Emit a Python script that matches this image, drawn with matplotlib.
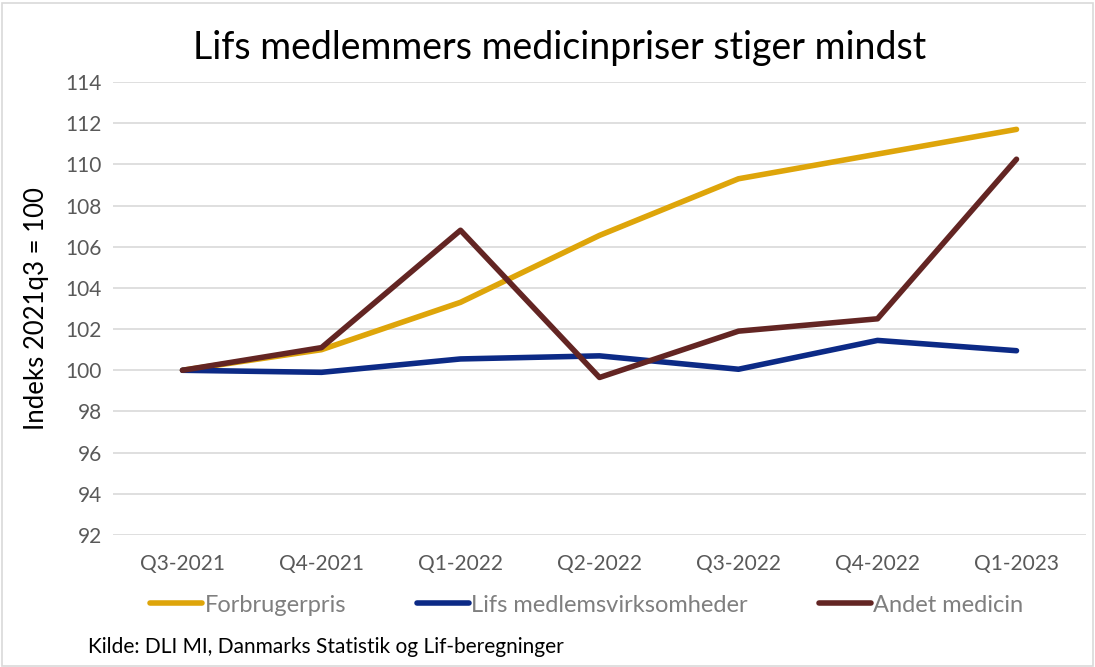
import matplotlib
matplotlib.use("Agg")
import matplotlib.pyplot as plt
from matplotlib.patches import Rectangle

categories = ["Q3-2021", "Q4-2021", "Q1-2022", "Q2-2022", "Q3-2022", "Q4-2022", "Q1-2023"]
forbrugerpris = [100.0, 101.0, 103.3, 106.55, 109.3, 110.5, 111.7]
lifs = [100.0, 99.9, 100.55, 100.7, 100.05, 101.45, 100.95]
andet = [100.0, 101.1, 106.8, 99.65, 101.9, 102.5, 110.25]
yticks = list(range(92, 115, 2))

plt.rcParams['font.family'] = ['Lato', 'DejaVu Sans']

fig = plt.figure(figsize=(10.95, 6.67), dpi=100)
fig.patches.append(Rectangle((0.002, 0.002), 0.996, 0.994, transform=fig.transFigure,
                             fill=False, edgecolor='#d9d9d9', linewidth=1.2))

ax = fig.add_axes([113/1095, 1-535/667, (1086-113)/1095, (535-82)/667])
x = list(range(len(categories)))
ax.plot(x, forbrugerpris, color='#dea50a', lw=4, solid_capstyle='round', label='Forbrugerpris')
ax.plot(x, lifs, color='#0c2a86', lw=4, solid_capstyle='round', label='Lifs medlemsvirksomheder')
ax.plot(x, andet, color='#632523', lw=4, solid_capstyle='round', label='Andet medicin')

ax.set_xlim(-0.5, len(categories) - 0.5)
ax.set_ylim(92, 114)
ax.set_yticks(yticks)
ax.set_xticks(x)
ax.set_xticklabels(categories)
ax.grid(axis='y', color='#d9d9d9', lw=1.2)
ax.set_axisbelow(True)
for s in ax.spines.values():
    s.set_visible(False)
ax.tick_params(axis='both', length=0, labelsize=15, colors='#595959', pad=8)
ax.tick_params(axis='x', pad=14)
ax.set_ylabel("Indeks 2021q3 = 100", fontsize=18.5, color='black', labelpad=12)

fig.text(0.511, 0.928, "Lifs medlemmers medicinpriser stiger mindst", ha='center', va='center',
         fontsize=27, color='black')

leg = ax.legend(loc='center', bbox_to_anchor=(0.487, (535-605)/(535-82)), ncol=3, frameon=False,
                fontsize=17, handlelength=2.2, handletextpad=0.1, columnspacing=3.0)
for t in leg.get_texts():
    t.set_color('#7f7f7f')

fig.text(88/1095, 1-647/667, "Kilde: DLI MI, Danmarks Statistik og Lif-beregninger", ha='left', va='center',
         fontsize=15, color='black')

fig.savefig("out.png", dpi=100, facecolor='white')
